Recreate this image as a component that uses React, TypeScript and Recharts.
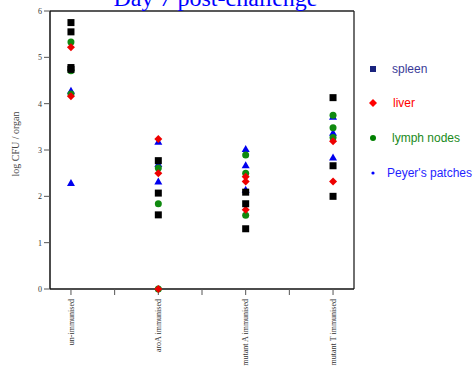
import React from "react";
import { ScatterChart, Scatter, XAxis, YAxis, ReferenceLine } from "recharts";

const categories = ["un-immunised", "aroA immunised", "mutant A immunised", "mutant T immunised"];
const categoryPositions = [1, 2, 3, 4];

// values per category (log CFU / organ)
const spleenValues = [
  [5.75, 5.55, 4.78, 4.74],
  [2.77, 2.07, 1.6],
  [2.09, 1.84, 1.3],
  [4.13, 2.66, 2.0],
];
const liverValues = [
  [5.22, 4.16],
  [3.24, 2.5, 0],
  [2.42, 2.32, 1.71],
  [3.19, 2.32],
];
const lymphValues = [
  [5.33, 4.71, 4.21],
  [2.61, 1.84, 0],
  [2.89, 2.5, 1.59],
  [3.75, 3.48, 3.27],
];
const peyersValues = [
  [4.28, 2.29],
  [3.18, 2.7, 2.32],
  [3.02, 2.67, 2.14],
  [3.72, 3.37, 2.84],
];

const yTicks = [0, 1, 2, 3, 4, 5, 6];
const xTicks = [1, 1.5, 2, 2.5, 3, 3.5, 4];

const legendItems = [
  { name: "spleen", color: "#3a3a98", marker: "square", markerColor: "#1a237e" },
  { name: "liver", color: "#ff0000", marker: "diamond", markerColor: "#ff0000" },
  { name: "lymph nodes", color: "#1a8a1a", marker: "circle", markerColor: "#008000" },
  { name: "Peyer's patches", color: "#1f1fff", marker: "dot", markerColor: "#0000ff" },
];

function toPoints(groups: number[][]) {
  return groups.flatMap((vals, i) => vals.map((v) => ({ x: categoryPositions[i], y: v })));
}

const SquareShape = (p: any) => (
  <rect x={p.cx - 3.5} y={p.cy - 3.5} width={7} height={7} fill="#000" />
);
const DiamondShape = (p: any) => (
  <polygon
    points={`${p.cx},${p.cy - 4} ${p.cx + 4},${p.cy} ${p.cx},${p.cy + 4} ${p.cx - 4},${p.cy}`}
    fill="#ee0000"
  />
);
const CircleShape = (p: any) => <circle cx={p.cx} cy={p.cy} r={3.5} fill="#108a10" />;
const TriangleShape = (p: any) => (
  <polygon
    points={`${p.cx},${p.cy - 4} ${p.cx + 4},${p.cy + 3} ${p.cx - 4},${p.cy + 3}`}
    fill="#0000ee"
  />
);

const XTick = (props: any) => {
  const { x, y, payload } = props;
  const idx = categoryPositions.indexOf(payload.value);
  if (idx < 0) return null;
  return (
    <text
      x={x}
      y={y + 2}
      transform={`rotate(-90, ${x}, ${y + 2})`}
      textAnchor="end"
      dy="0.35em"
      fontSize={8}
      fontFamily="Liberation Serif, serif"
      fill="#333"
    >
      {categories[idx]}
    </text>
  );
};

const LegendMarker = ({ type, color }: { type: string; color: string }) => {
  let el: any = null;
  if (type === "square") el = <rect x={5} y={5} width={6} height={6} fill={color} />;
  if (type === "diamond") el = <polygon points="8,4 12,8 8,12 4,8" fill={color} />;
  if (type === "circle") el = <circle cx={8} cy={8} r={3} fill={color} />;
  if (type === "dot") el = <circle cx={8} cy={8} r={1.6} fill={color} />;
  return (
    <svg width={16} height={16} style={{ position: "absolute", left: -8, top: 0 }}>
      {el}
    </svg>
  );
};

const legendY = [69, 103, 138, 173];
const legendTextX = [392, 393, 392, 387];

export default function App() {
  return (
    <div style={{ position: "absolute", left: 0, top: 0, width: 473, height: 366, background: "#fff", overflow: "hidden" }}>
      <ScatterChart width={473} height={366} margin={{ top: 11, right: 119, bottom: 7, left: 10 }}>
        <XAxis
          type="number"
          dataKey="x"
          domain={[0.76, 4.24]}
          ticks={xTicks}
          allowDataOverflow
          height={70}
          tickSize={6}
          tick={<XTick />}
          axisLine={{ stroke: "#111", strokeWidth: 1.5 }}
          tickLine={{ stroke: "#555" }}
          interval={0}
        />
        <YAxis
          type="number"
          dataKey="y"
          domain={[0, 6]}
          ticks={yTicks}
          width={40}
          tickSize={6}
          tick={{ fontSize: 8, fontFamily: "Liberation Serif, serif", fill: "#333" }}
          axisLine={{ stroke: "#111", strokeWidth: 1.5 }}
          tickLine={{ stroke: "#555" }}
          label={{
            value: "log CFU / organ",
            angle: -90,
            position: "insideLeft",
            offset: 5,
            dy: -6,
            style: { textAnchor: "middle", fontSize: 10, fontFamily: "Liberation Serif, serif", fill: "#444" },
          }}
        />
        <ReferenceLine y={6} stroke="#222" strokeWidth={1.3} ifOverflow="visible" />
        <ReferenceLine x={4.24} stroke="#222" strokeWidth={1.3} ifOverflow="visible" />
        <Scatter data={toPoints(peyersValues)} shape={TriangleShape} isAnimationActive={false} />
        <Scatter data={toPoints(lymphValues)} shape={CircleShape} isAnimationActive={false} />
        <Scatter data={toPoints(liverValues)} shape={DiamondShape} isAnimationActive={false} />
        <Scatter data={toPoints(spleenValues)} shape={SquareShape} isAnimationActive={false} />
      </ScatterChart>
      <div
        style={{
          position: "absolute",
          left: 0,
          width: 431,
          top: -14,
          textAlign: "center",
          fontFamily: "Liberation Serif, serif",
          fontSize: 24,
          lineHeight: "24px",
          color: "#0000ff",
          whiteSpace: "nowrap",
        }}
      >
        Day 7 post-challenge
      </div>
      {legendItems.map((item, i) => (
        <div key={item.name} style={{ position: "absolute", left: 373, top: legendY[i] - 8, height: 16 }}>
          <LegendMarker type={item.marker} color={item.markerColor} />
          <span
            style={{
              position: "absolute",
              left: legendTextX[i] - 373,
              top: 0,
              lineHeight: "16px",
              fontSize: 12,
              fontFamily: "Liberation Sans, Arial, sans-serif",
              color: item.color,
              whiteSpace: "nowrap",
            }}
          >
            {item.name}
          </span>
        </div>
      ))}
    </div>
  );
}
